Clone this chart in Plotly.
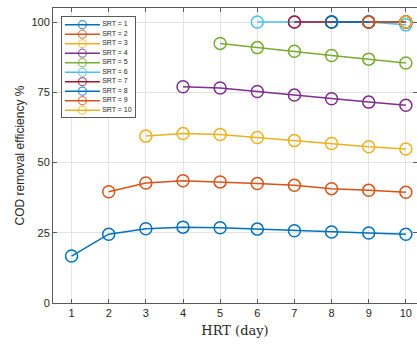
import plotly.graph_objects as go

hrt = [1, 2, 3, 4, 5, 6, 7, 8, 9, 10]
srt_labels = ["SRT = 1", "SRT = 2", "SRT = 3", "SRT = 4", "SRT = 5",
              "SRT = 6", "SRT = 7", "SRT = 8", "SRT = 9", "SRT = 10"]
srt_1 = [16.7, 24.5, 26.4, 27.0, 26.8, 26.3, 25.7, 25.3, 24.9, 24.5]
srt_2 = [39.6, 42.7, 43.5, 43.1, 42.5, 41.9, 40.7, 40.1, 39.4]
srt_3 = [59.4, 60.3, 60.0, 58.9, 57.8, 56.8, 55.6, 54.8]
srt_4 = [77.0, 76.5, 75.3, 74.0, 72.7, 71.5, 70.4]
srt_5 = [92.4, 90.9, 89.6, 88.1, 86.8, 85.4]
srt_6 = [100, 100, 100, 100, 99.0]
srt_7 = [100, 100, 100, 100]
srt_8 = [100, 100, 100]
srt_9 = [100, 100]
srt_10 = [100]
series = [srt_1, srt_2, srt_3, srt_4, srt_5, srt_6, srt_7, srt_8, srt_9, srt_10]
yticks = [0, 25, 50, 75, 100]

colors = ["#0072BD", "#D95319", "#EDB120", "#7E2F8E", "#77AC30",
          "#4DBEEE", "#A2142F", "#0072BD", "#D95319", "#EDB120"]

fig = go.Figure()
for i, ys in enumerate(series):
    xs = hrt[len(hrt) - len(ys):]
    fig.add_trace(go.Scatter(
        x=xs, y=ys, mode="lines+markers", showlegend=False,
        line=dict(color=colors[i], width=1.5),
        marker=dict(symbol="circle-open", size=12, color=colors[i],
                    line=dict(width=1.5, color=colors[i])),
        xaxis="x", yaxis="y"))

# custom legend in an inset axes
for i, lab in enumerate(srt_labels):
    fig.add_trace(go.Scatter(
        x=[0.04, 0.28, 0.52], y=[i + 1] * 3, mode="lines+markers",
        showlegend=False,
        line=dict(color=colors[i], width=1.5),
        marker=dict(symbol="circle-open", size=[0, 8, 0], color=colors[i],
                    line=dict(width=1.3, color=colors[i])),
        xaxis="x2", yaxis="y2", hoverinfo="skip"))
fig.add_trace(go.Scatter(
    x=[0.55] * len(srt_labels), y=list(range(1, len(srt_labels) + 1)),
    mode="text", text=srt_labels, textposition="middle right",
    textfont=dict(family="Liberation Sans, Arial", size=7, color="#262626"),
    showlegend=False, xaxis="x2", yaxis="y2", hoverinfo="skip"))

axis_color = "#5a5a5a"
grid_color = "#e3e3e3"

fig.update_layout(
    width=417, height=344,
    margin=dict(l=53, r=0, t=8, b=41),
    paper_bgcolor="white", plot_bgcolor="white",
    font=dict(family="Liberation Sans, Arial", size=11, color="#262626"),
    xaxis=dict(
        range=[0.5, 10.3], tickvals=hrt, ticktext=[str(v) for v in hrt],
        showgrid=True, gridcolor=grid_color, gridwidth=1,
        showline=True, linecolor=axis_color, linewidth=1, mirror="ticks",
        ticks="inside", ticklen=4, tickcolor=axis_color, zeroline=False,
        title=dict(text="HRT (day)", standoff=7,
                   font=dict(family="DejaVu Serif, Liberation Serif", size=13, color="#262626")),
        tickfont=dict(size=11, color="#262626"),
    ),
    yaxis=dict(
        range=[0, 105], tickvals=yticks, ticktext=[str(v) for v in yticks],
        showgrid=True, gridcolor=grid_color, gridwidth=1,
        showline=True, linecolor=axis_color, linewidth=1, mirror="ticks",
        ticks="inside", ticklen=4, tickcolor=axis_color, zeroline=False,
        title=dict(text="COD removal efficiency %", standoff=4,
                   font=dict(family="Liberation Sans, Arial", size=12, color="#262626")),
        tickfont=dict(size=11, color="#262626"),
    ),
    xaxis2=dict(domain=[0.0247, 0.2253], range=[0, 1], anchor="y2",
                showgrid=False, zeroline=False, showticklabels=False, ticks="",
                showline=True, linecolor=axis_color, linewidth=1, mirror=True),
    yaxis2=dict(domain=[0.630, 0.9695], range=[10.74, 0.19], anchor="x2",
                showgrid=False, zeroline=False, showticklabels=False, ticks="",
                showline=True, linecolor=axis_color, linewidth=1, mirror=True),
    hovermode=False,
)

fig.write_html("out.html", config={"displayModeBar": False},
               post_script="document.body.style.margin='0';document.body.style.overflow='hidden';")
